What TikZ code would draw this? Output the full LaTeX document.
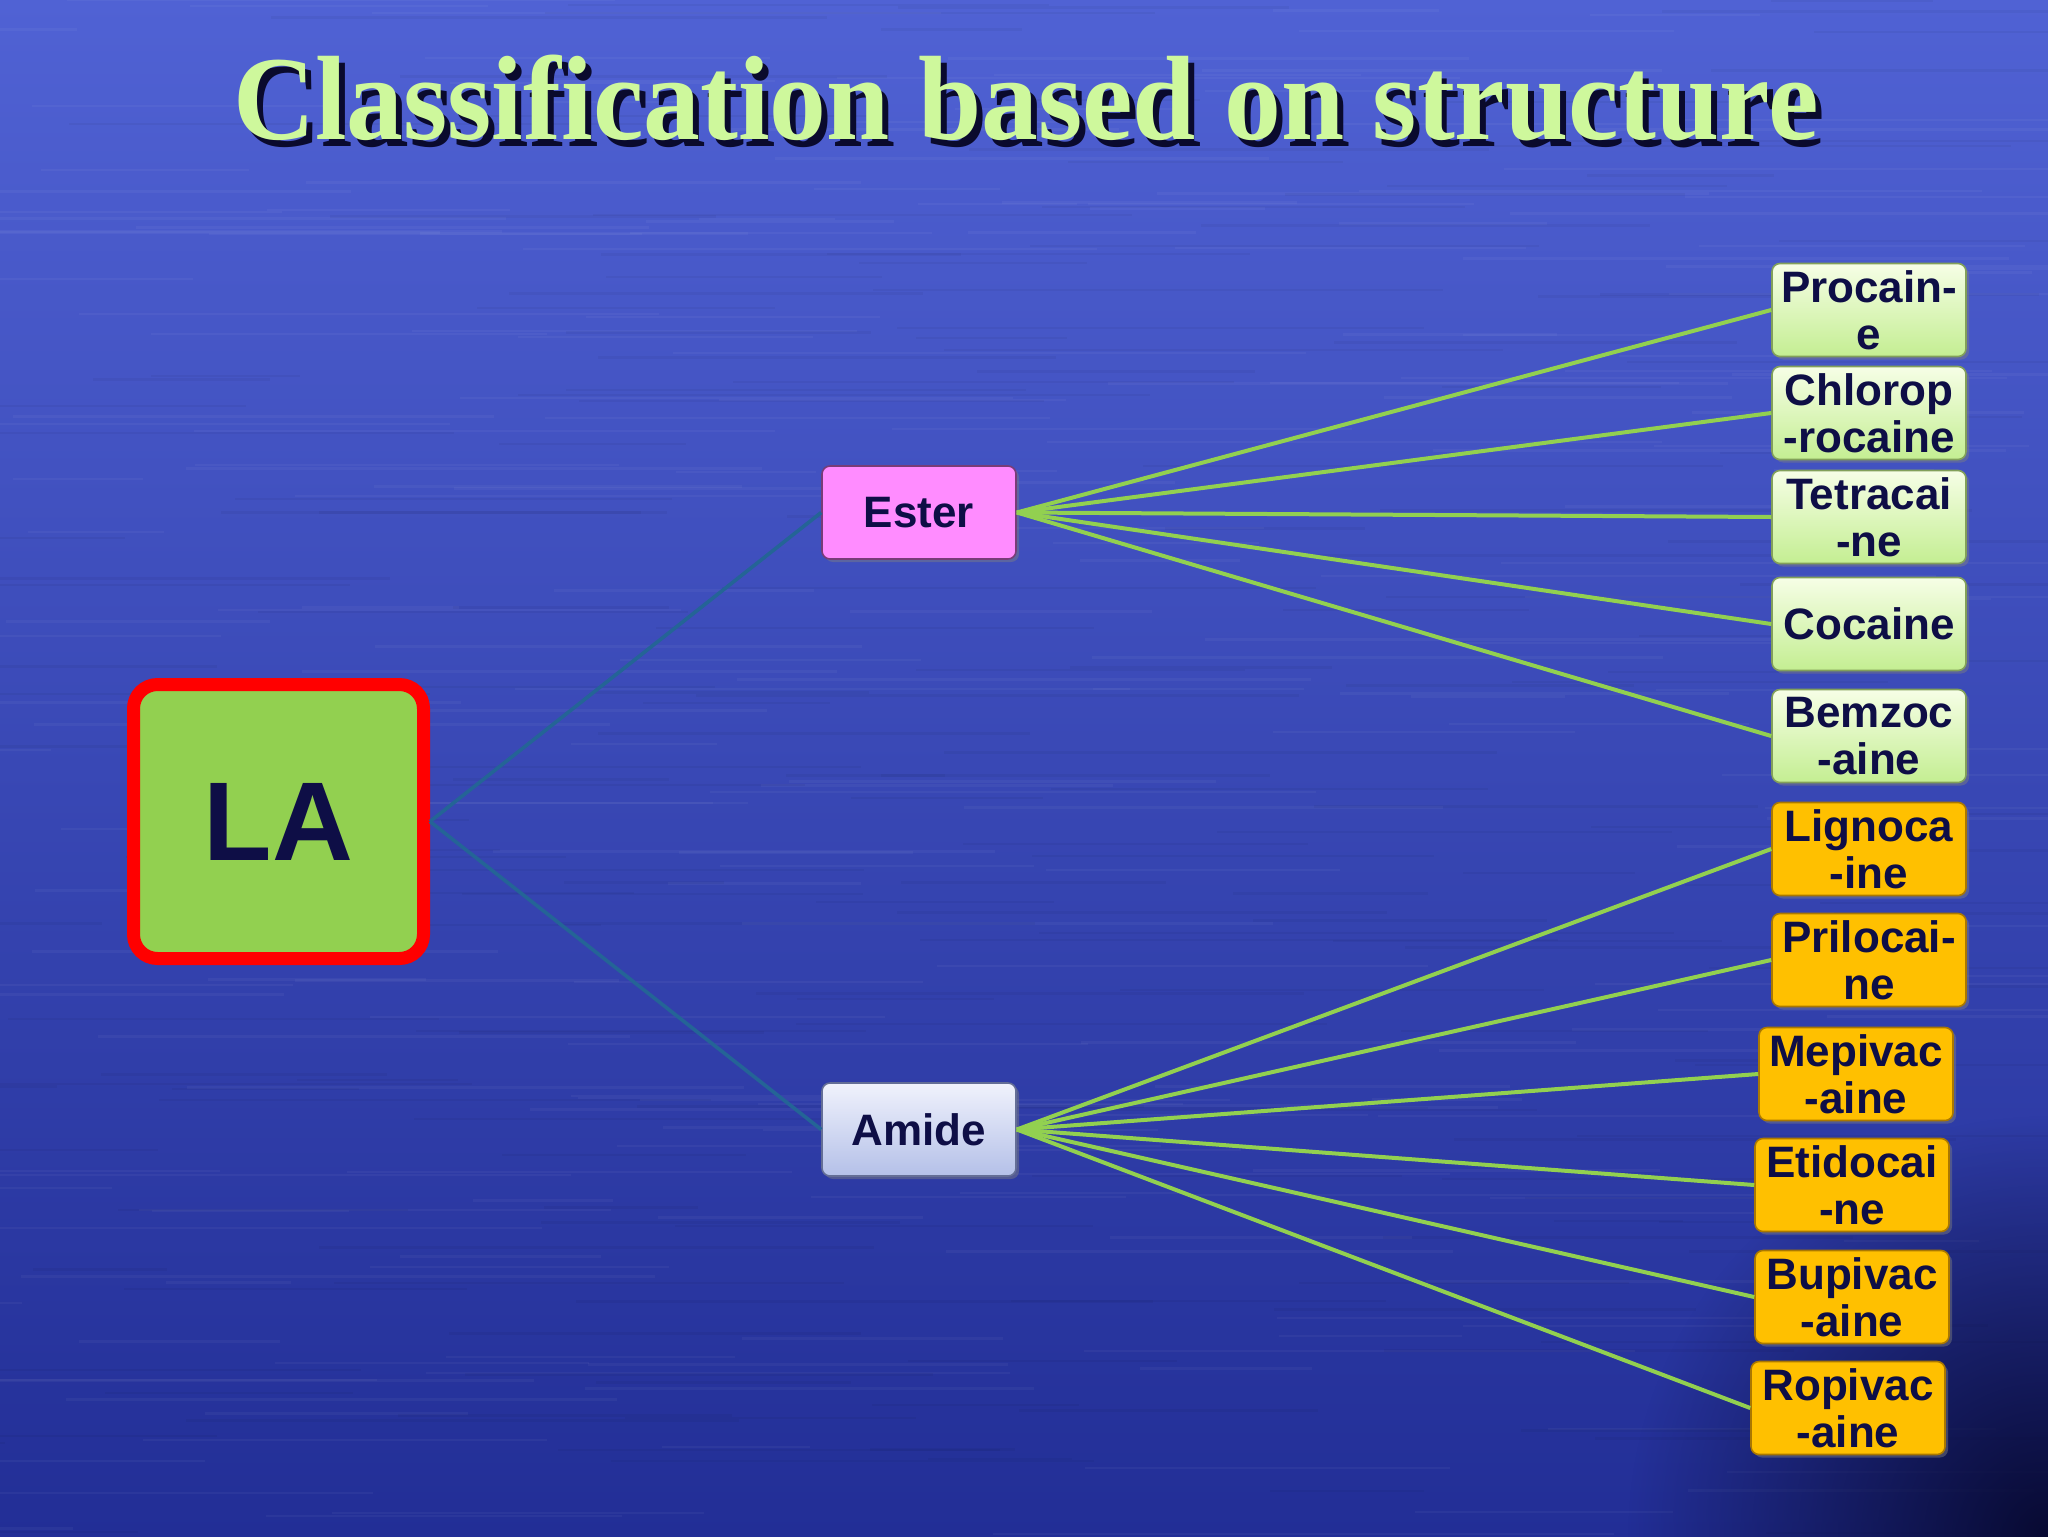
\documentclass[tikz,border=0pt]{standalone}
\usepackage{fontspec}
\setmainfont{Liberation Serif}
\setsansfont{Liberation Sans}
\usetikzlibrary{shadows,fadings}
\definecolor{bgtop}{RGB}{80,98,212}
\definecolor{bgmid}{RGB}{52,68,182}
\definecolor{bgbot}{RGB}{34,46,150}
\definecolor{cornerdark}{RGB}{8,10,50}
\definecolor{titlegreen}{RGB}{206,248,156}
\definecolor{titleshade}{RGB}{10,10,45}
\definecolor{navytext}{RGB}{14,14,70}
\definecolor{lagreen}{RGB}{146,208,80}
\definecolor{lared}{RGB}{255,0,0}
\definecolor{esterpink}{RGB}{255,140,255}
\definecolor{esterborder}{RGB}{120,60,120}
\definecolor{amidetop}{RGB}{240,242,252}
\definecolor{amidebot}{RGB}{180,192,232}
\definecolor{amideborder}{RGB}{100,110,150}
\definecolor{greentop}{RGB}{246,254,230}
\definecolor{greenbot}{RGB}{196,238,146}
\definecolor{greenborder}{RGB}{130,160,90}
\definecolor{orangefill}{RGB}{255,192,0}
\definecolor{orangeborder}{RGB}{170,120,0}
\definecolor{fanline}{RGB}{146,208,80}
\definecolor{laline}{RGB}{36,100,150}
\tikzfading[name=cornerfade, inner color=transparent!0, outer color=transparent!100]
\newcommand{\titletext}{\scalebox{0.947}[1]{Classification based on structure}}
\begin{document}
\begin{tikzpicture}[x=0.5pt,y=-0.5pt,
  box/.style={rectangle, rounded corners=4pt, inner sep=0pt, align=center,
    font=\sffamily\bfseries\fontsize{22}{23.5}\selectfont, text=navytext,
    minimum width=97pt, minimum height=46.5pt,
    drop shadow={opacity=0.45, shadow xshift=1.5pt, shadow yshift=-1.5pt}},
  greenbox/.style={box, draw=greenborder, line width=0.8pt, top color=greentop, bottom color=greenbot},
  orangebox/.style={box, draw=orangeborder, line width=0.8pt, fill=orangefill},
  esterbox/.style={box, draw=esterborder, line width=0.8pt, fill=esterpink},
  amidebox/.style={box, draw=amideborder, line width=0.8pt, top color=amidetop, bottom color=amidebot},
  labox/.style={rectangle, rounded corners=12pt, inner sep=0pt, draw=lared, line width=6.5pt,
    fill=lagreen, minimum width=145pt, minimum height=137pt, text=navytext,
    font=\sffamily\bfseries\fontsize{56}{60}\selectfont,
    drop shadow={opacity=0.45, shadow xshift=2pt, shadow yshift=-2pt}},
  fan/.style={draw=fanline, line width=2pt},
  root/.style={draw=laline, line width=1.8pt},
  titlefont/.style={font=\bfseries\fontsize{60}{64}\selectfont, inner sep=0pt, anchor=base}
]
\useasboundingbox (0,0) rectangle (2048,1536);
% background
\begin{scope}
\clip (0,0) rectangle (2048,1536);
\shade[top color=bgtop, middle color=bgmid, bottom color=bgbot] (0,0) rectangle (2048,1536);
\pgfmathsetseed{7}
\foreach \i in {1,...,240}{
  \pgfmathsetmacro\yy{rnd*1536}
  \pgfmathsetmacro\xx{rnd*2048-200}
  \pgfmathsetmacro\ll{120+rnd*520}
  \draw[white, opacity=0.04, line width=1.2pt] (\xx,\yy) -- ++(\ll,0);
}
\foreach \i in {1,...,200}{
  \pgfmathsetmacro\yy{rnd*1536}
  \pgfmathsetmacro\xx{rnd*2048-200}
  \pgfmathsetmacro\ll{120+rnd*520}
  \draw[black, opacity=0.04, line width=1.2pt] (\xx,\yy) -- ++(\ll,0);
}
\fill[cornerdark, path fading=cornerfade] (2048,1536) circle (420);
\end{scope}
% title (text with its drop shadow)
\node[titlefont] (title) at (1026,140) {\rlap{\hspace*{3pt}\raisebox{-3pt}{\color{titleshade}\titletext}}{\color{titlegreen}\titletext}};
% nodes
\node[labox] (LA) at (278.5,821.5) {LA};
\node[esterbox] (ester) at (919,512.5) {Ester};
\node[amidebox] (amide) at (919,1129.5) {Amide};
\node[greenbox] (procaine) at (1869,310) {Procain-\\e};
\node[greenbox] (chloro) at (1869,413) {Chlorop\\-rocaine};
\node[greenbox] (tetra) at (1869,517) {Tetracai\\-ne};
\node[greenbox] (cocaine) at (1869,624) {Cocaine};
\node[greenbox] (benzo) at (1869,736) {Bemzoc\\-aine};
\node[orangebox] (ligno) at (1869,849) {Lignoca\\-ine};
\node[orangebox] (prilo) at (1869,960) {Prilocai-\\ne};
\node[orangebox] (mepi) at (1856,1074) {Mepivac\\-aine};
\node[orangebox] (etido) at (1852,1185) {Etidocai\\-ne};
\node[orangebox] (bupi) at (1852,1297) {Bupivac\\-aine};
\node[orangebox] (ropi) at (1848,1408) {Ropivac\\-aine};
% connectors
\draw[root] (LA.east) -- (ester.west);
\draw[root] (LA.east) -- (amide.west);
\foreach \t in {procaine,chloro,tetra,cocaine,benzo}
  \draw[fan] (ester.east) -- (\t.west);
\foreach \t in {ligno,prilo,mepi,etido,bupi,ropi}
  \draw[fan] (amide.east) -- (\t.west);
\end{tikzpicture}
\end{document}
